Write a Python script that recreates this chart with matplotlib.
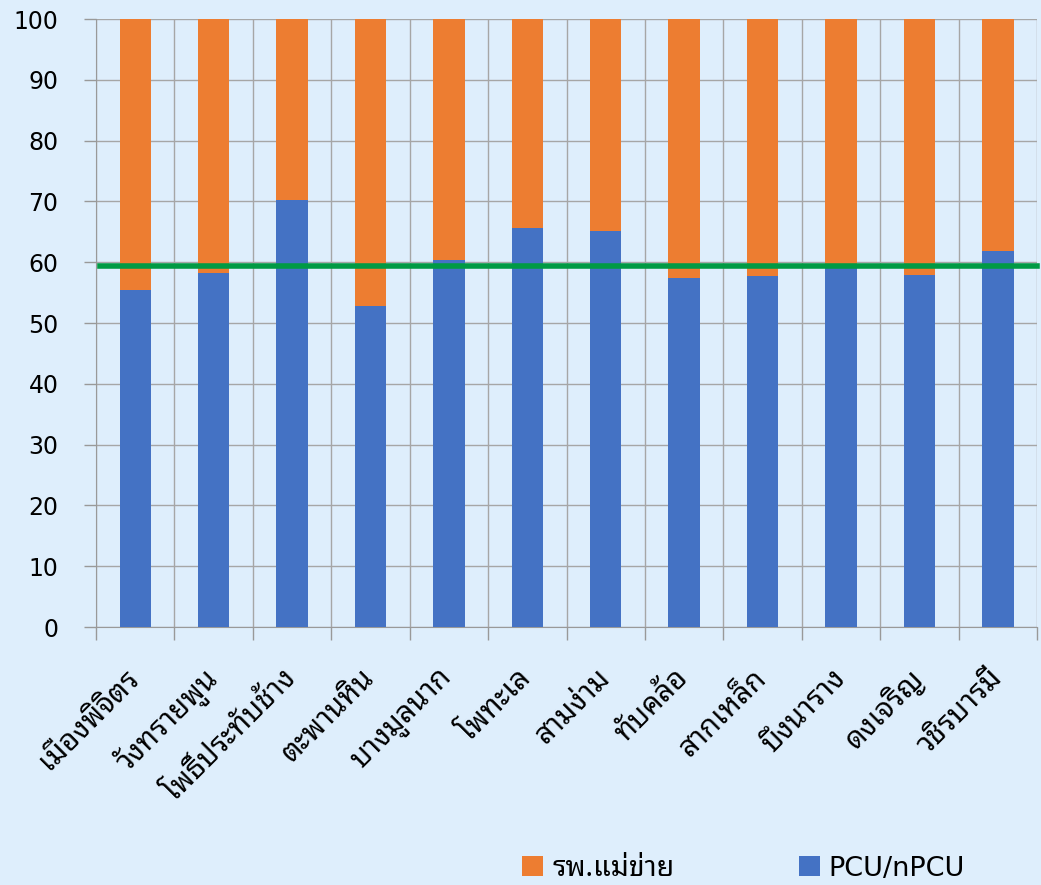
import numpy as np
import matplotlib
matplotlib.use("Agg")
import matplotlib.pyplot as plt

# data (percent)
districts = ['เมืองพิจิตร', 'วังทรายพูน', 'โพธิ์ประทับช้าง', 'ตะพานหิน', 'บางมูลนาก',
             'โพทะเล', 'สามง่าม', 'ทับคล้อ', 'สากเหล็ก', 'บึงนาราง', 'ดงเจริญ', 'วชิรบารมี']
pcu = [55.4, 58.3, 70.3, 52.8, 60.3, 65.6, 65.1, 57.4, 57.8, 59.6, 57.9, 61.9]
mother_hosp = [100 - v for v in pcu]
target = 59.3

# DejaVu for digits/latin; Thai strings get a looped Thai face (Tahoma-like)
plt.rcParams['font.family'] = ['DejaVu Sans']
THAI = ['Noto Sans Thai Looped', 'Loma']

bg = '#DEEEFC'
fig = plt.figure(figsize=(10.41, 8.85), dpi=100, facecolor=bg)
ax = fig.add_axes([0.0922, 0.2915, 0.904, 0.687])
ax.set_facecolor(bg)

x = np.arange(len(districts))
ax.bar(x, pcu, width=0.4, color='#4472C4', label='PCU/nPCU', zorder=3)
ax.bar(x, mother_hosp, width=0.4, bottom=pcu, color='#ED7D31', label='รพ.แม่ข่าย', zorder=3)
ax.axhline(target, xmin=0.004, xmax=1.0, color='#009A44', lw=4, zorder=4, clip_on=False)

ax.set_xlim(-0.5, len(districts) - 0.5)
ax.set_ylim(0, 100)
ax.set_yticks(range(0, 101, 10))
ax.set_xticks(x)
ax.set_xticks(np.arange(-0.5, len(districts), 1), minor=True)
ax.set_xticklabels(districts, rotation=45, ha='right', va='center', rotation_mode='anchor',
                   fontsize=21, family=THAI)
ax.tick_params(axis='x', which='major', length=0, pad=34)
ax.tick_params(axis='x', which='minor', length=9, color='#999999', width=1)
ax.tick_params(axis='y', length=9, color='#999999', width=1, pad=18, labelsize=17)
ax.grid(True, axis='y', color='#A6A6A6', lw=1, zorder=0)
ax.grid(True, axis='x', which='minor', color='#A6A6A6', lw=1, zorder=0)

for s in ['top', 'right']:
    ax.spines[s].set_visible(False)
for s in ['left', 'bottom']:
    ax.spines[s].set_color('#999999')

h, l = ax.get_legend_handles_labels()
leg = fig.legend(h[::-1], l[::-1], loc='center left', bbox_to_anchor=(0.478, 0.019), ncol=2,
                 frameon=False, fontsize=19.5, handlelength=0.78, handleheight=0.78,
                 columnspacing=4.6, handletextpad=0.33)
leg.get_texts()[0].set_family(THAI)
leg.get_texts()[0].set_fontsize(20.5)

fig.savefig('out.png', dpi=100, facecolor=bg)
